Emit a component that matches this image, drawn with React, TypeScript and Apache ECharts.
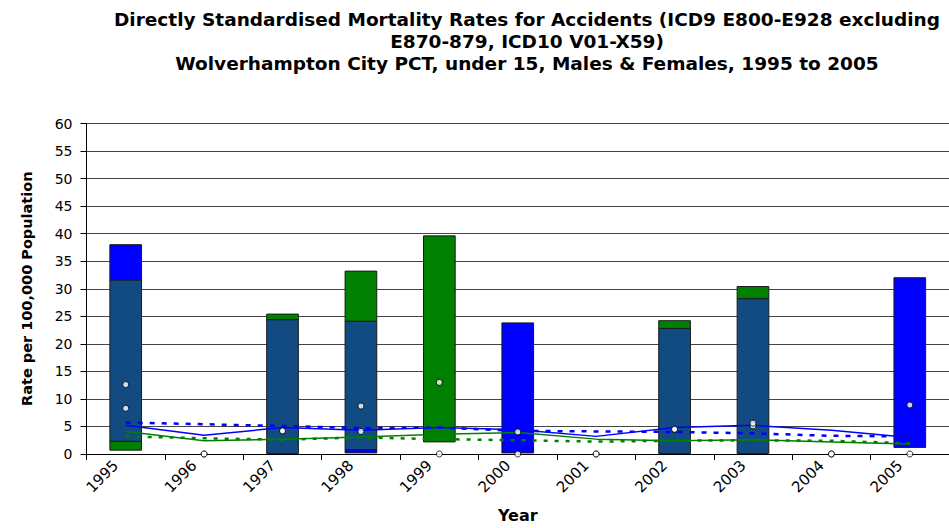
import React, { useEffect, useRef } from "react";
import * as echarts from "echarts";

const years = ["1995", "1996", "1997", "1998", "1999", "2000", "2001", "2002", "2003", "2004", "2005"];

// Directly standardised rates (local)
const maleRate = [12.6, 0, 4.1, 4.1, 0, 4.0, 0, 4.4, 5.1, 0, 8.9];
const femaleRate = [8.3, 0, 4.2, 8.7, 13.0, 0, 0, 4.5, 5.6, 0, 0];

// 95% confidence intervals (null = no deaths)
const maleLower = [2.3, null, 0.1, 0.2, null, 0.2, null, 0.1, 0.1, null, 1.2];
const maleUpper = [38.0, null, 24.4, 24.1, null, 23.8, null, 22.8, 28.2, null, 32.0];
const femaleLower = [0.7, null, 0.1, 0.8, 2.2, null, null, 0.1, 0.1, null, null];
const femaleUpper = [31.6, null, 25.4, 33.2, 39.6, null, null, 24.2, 30.4, null, null];

// Comparator rates
const maleCompSolid = [5.2, 3.4, 4.8, 4.3, 4.8, 4.4, 3.2, 4.8, 5.2, 4.3, 3.0];
const maleCompDashed = [5.7, 5.4, 5.1, 4.7, 4.8, 4.2, 4.1, 4.0, 3.75, 3.3, 3.2];
const femaleCompSolid = [4.1, 2.4, 2.7, 3.1, 3.6, 3.9, 2.7, 2.4, 2.6, 2.2, 1.8];
const femaleCompDashed = [3.2, 2.85, 2.6, 3.0, 2.7, 2.5, 2.25, 2.4, 2.5, 2.4, 1.95];

const BLUE = "#0000FF";
const GREEN = "#008000";
const OVERLAP = "#124A82";

type Seg = { lo: number; hi: number; color: string };

function barSegments(i: number): Seg[] {
  const m = maleLower[i] != null ? [maleLower[i] as number, maleUpper[i] as number] : null;
  const f = femaleLower[i] != null ? [femaleLower[i] as number, femaleUpper[i] as number] : null;
  if (!m && !f) return [];
  if (!m) return [{ lo: f![0], hi: f![1], color: GREEN }];
  if (!f) return [{ lo: m[0], hi: m[1], color: BLUE }];
  const segs: Seg[] = [];
  const lowLo = Math.min(m[0], f[0]);
  const highLo = Math.max(m[0], f[0]);
  const lowHi = Math.min(m[1], f[1]);
  const highHi = Math.max(m[1], f[1]);
  if (highLo - lowLo > 0.05) segs.push({ lo: lowLo, hi: highLo, color: m[0] < f[0] ? BLUE : GREEN });
  segs.push({ lo: highLo, hi: lowHi, color: OVERLAP });
  if (highHi - lowHi > 0.05) segs.push({ lo: lowHi, hi: highHi, color: m[1] > f[1] ? BLUE : GREEN });
  return segs;
}

export default function App() {
  const ref = useRef<HTMLDivElement>(null);
  useEffect(() => {
    document.body.style.margin = "0";
    const chart = echarts.init(ref.current!, null, { renderer: "svg" });
    const barData = years.map((_, i) => [
      i,
      Math.max((maleUpper[i] as number) || 0, (femaleUpper[i] as number) || 0),
    ]);
    chart.setOption({
      animation: false,
      backgroundColor: "#ffffff",
      graphic: [
        {
          type: "text",
          x: 527,
          y: 8,
          style: {
            text:
              "Directly Standardised Mortality Rates for Accidents (ICD9 E800-E928 excluding\nE870-879, ICD10 V01-X59)\nWolverhampton City PCT, under 15, Males & Females, 1995 to 2005",
            textAlign: "center",
            fontFamily: "DejaVu Sans",
            fontWeight: "bold",
            fontSize: 18.5,
            lineHeight: 22,
            fill: "#000",
          },
        },
      ],
      grid: { left: 86.5, top: 123.5, width: 871, height: 333 },
      xAxis: {
        type: "category",
        data: years,
        boundaryGap: true,
        name: "Year",
        nameLocation: "middle",
        nameGap: 53,
        nameTextStyle: { fontFamily: "DejaVu Sans", fontWeight: "bold", fontSize: 16, color: "#000" },
        axisLine: { lineStyle: { color: "#000", width: 1 } },
        axisTick: { show: true, length: 6, lineStyle: { color: "#000" } },
        axisLabel: {
          interval: 0,
          rotate: 45,
          margin: -1,
          padding: [0, 14, 0, 0],
          fontFamily: "DejaVu Sans",
          fontSize: 15,
          color: "#000",
        },
      },
      yAxis: {
        type: "value",
        min: 0,
        max: 60,
        interval: 5,
        name: "Rate per 100,000 Population",
        nameLocation: "middle",
        nameGap: 52,
        nameTextStyle: { fontFamily: "DejaVu Sans", fontWeight: "bold", fontSize: 14.5, color: "#000" },
        axisLine: { show: true, lineStyle: { color: "#000", width: 1 } },
        axisTick: { show: true, length: 6, lineStyle: { color: "#000" } },
        axisLabel: { margin: 14, fontFamily: "DejaVu Sans", fontSize: 14, color: "#000" },
        splitLine: { show: true, lineStyle: { color: "#444", width: 1 } },
      },
      series: [
        {
          type: "custom",
          name: "Confidence intervals",
          z: 2,
          data: barData,
          encode: { x: 0, y: 1 },
          renderItem: (params: any, api: any) => {
            const i = params.dataIndex;
            const cx = api.coord([i, 0])[0];
            const w = api.size([1, 0])[0] * 0.404;
            const segs = barSegments(i);
            return {
              type: "group",
              children: segs.map((s) => {
                const top = api.coord([i, s.hi])[1];
                const bot = api.coord([i, s.lo])[1];
                return {
                  type: "rect",
                  shape: { x: cx - w / 2, y: top, width: w, height: bot - top },
                  style: { fill: s.color, stroke: "#1a1a1a", lineWidth: 1 },
                };
              }),
            };
          },
        },
        {
          type: "line",
          name: "Males comparator",
          z: 3,
          data: maleCompSolid,
          showSymbol: false,
          lineStyle: { color: BLUE, width: 1.5 },
        },
        {
          type: "line",
          name: "Males comparator 2",
          z: 3,
          data: maleCompDashed,
          showSymbol: false,
          lineStyle: { color: BLUE, width: 2.5, type: [5, 7] },
        },
        {
          type: "line",
          name: "Females comparator",
          z: 3,
          data: femaleCompSolid,
          showSymbol: false,
          lineStyle: { color: GREEN, width: 1.5 },
        },
        {
          type: "line",
          name: "Females comparator 2",
          z: 3,
          data: femaleCompDashed,
          showSymbol: false,
          lineStyle: { color: GREEN, width: 2.5, type: [4, 7] },
        },
        {
          type: "scatter",
          name: "Males",
          z: 4,
          clip: false,
          data: maleRate,
          symbolSize: 6,
          itemStyle: { color: "#fff", borderColor: "#000", borderWidth: 1 },
        },
        {
          type: "scatter",
          name: "Females",
          z: 4,
          clip: false,
          data: femaleRate,
          symbolSize: 6,
          itemStyle: { color: "#fff", borderColor: "#000", borderWidth: 1 },
        },
      ],
    });
    return () => chart.dispose();
  }, []);
  return <div ref={ref} style={{ width: 949, height: 528 }} />;
}
